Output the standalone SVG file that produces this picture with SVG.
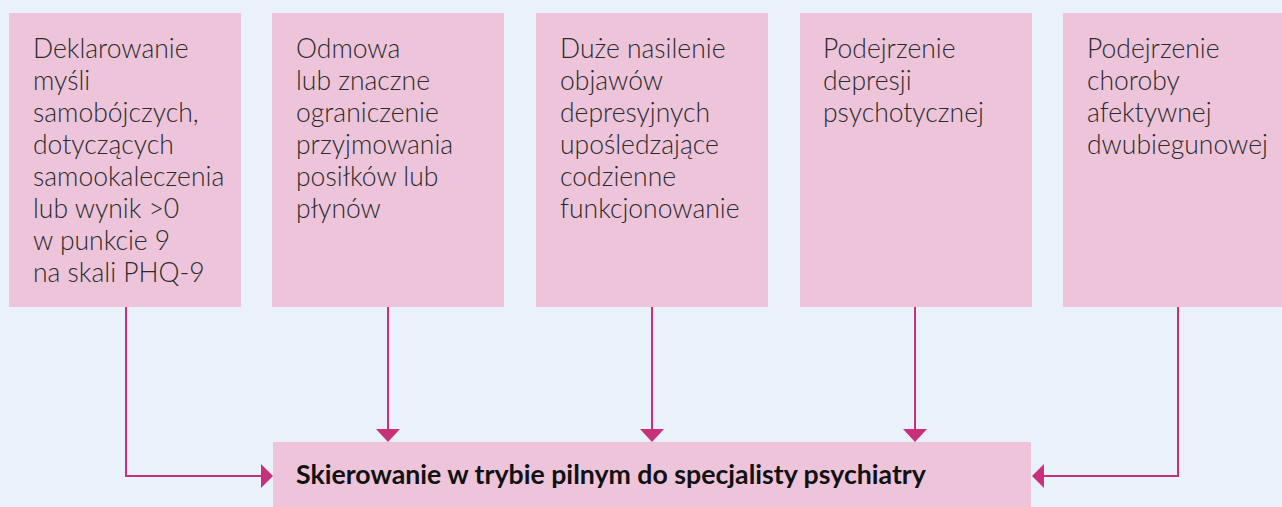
<svg xmlns="http://www.w3.org/2000/svg" width="1282" height="507" viewBox="0 0 1282 507">
<style>
.bg{fill:#e9f1fb}
.box{fill:#edc4da}
.t{font-family:Lato,"Liberation Sans",sans-serif;font-weight:300;font-size:26.5px;fill:#2b2b2b}
.b{font-family:Lato,"Liberation Sans",sans-serif;font-weight:700;font-size:26.7px;fill:#111}
.ln{fill:none;stroke:#c8317a;stroke-width:2}
.ah{fill:#c8317a}
</style>
<rect class="bg" x="0" y="0" width="1282" height="507"/>
<g id="n1"><rect class="box" x="9" y="13" width="232" height="294"/>
<text class="t" x="33" y="58"><tspan x="33">Deklarowanie</tspan><tspan x="33" dy="32">myśli</tspan><tspan x="33" dy="32">samobójczych,</tspan><tspan x="33" dy="32">dotyczących</tspan><tspan x="33" dy="32">samookaleczenia</tspan><tspan x="33" dy="32">lub wynik &gt;0</tspan><tspan x="33" dy="32">w punkcie 9</tspan><tspan x="33" dy="32">na skali PHQ-9</tspan></text></g>
<g id="n2"><rect class="box" x="272" y="13" width="232" height="294"/>
<text class="t" x="296" y="58"><tspan x="296">Odmowa</tspan><tspan x="296" dy="32">lub znaczne</tspan><tspan x="296" dy="32">ograniczenie</tspan><tspan x="296" dy="32">przyjmowania</tspan><tspan x="296" dy="32">posiłków lub</tspan><tspan x="296" dy="32">płynów</tspan></text></g>
<g id="n3"><rect class="box" x="536" y="13" width="232" height="294"/>
<text class="t" x="560" y="58"><tspan x="560">Duże nasilenie</tspan><tspan x="560" dy="32">objawów</tspan><tspan x="560" dy="32">depresyjnych</tspan><tspan x="560" dy="32">upośledzające</tspan><tspan x="560" dy="32">codzienne</tspan><tspan x="560" dy="32">funkcjonowanie</tspan></text></g>
<g id="n4"><rect class="box" x="800" y="13" width="232" height="294"/>
<text class="t" x="823" y="58"><tspan x="823">Podejrzenie</tspan><tspan x="823" dy="32">depresji</tspan><tspan x="823" dy="32">psychotycznej</tspan></text></g>
<g id="n5"><rect class="box" x="1063" y="13" width="219" height="294"/>
<text class="t" x="1087" y="58"><tspan x="1087">Podejrzenie</tspan><tspan x="1087" dy="32">choroby</tspan><tspan x="1087" dy="32">afektywnej</tspan><tspan x="1087" dy="32">dwubiegunowej</tspan></text></g>
<g id="target"><rect class="box" x="273" y="442" width="758" height="65"/>
<text class="b" x="296" y="484">Skierowanie w trybie pilnym do specjalisty psychiatry</text></g>
<g id="connectors">
<path class="ln" d="M126 307 V476 H262"/>
<polygon class="ah" points="273,476 261,464 261,488"/>
<path class="ln" d="M388 307 V430"/>
<polygon class="ah" points="388,442 376,429 400,429"/>
<path class="ln" d="M652 307 V430"/>
<polygon class="ah" points="652,442 640,429 664,429"/>
<path class="ln" d="M915 307 V430"/>
<polygon class="ah" points="915,442 903,429 927,429"/>
<path class="ln" d="M1178 307 V476 H1043"/>
<polygon class="ah" points="1032,476 1044,464 1044,488"/>
</g>
</svg>
